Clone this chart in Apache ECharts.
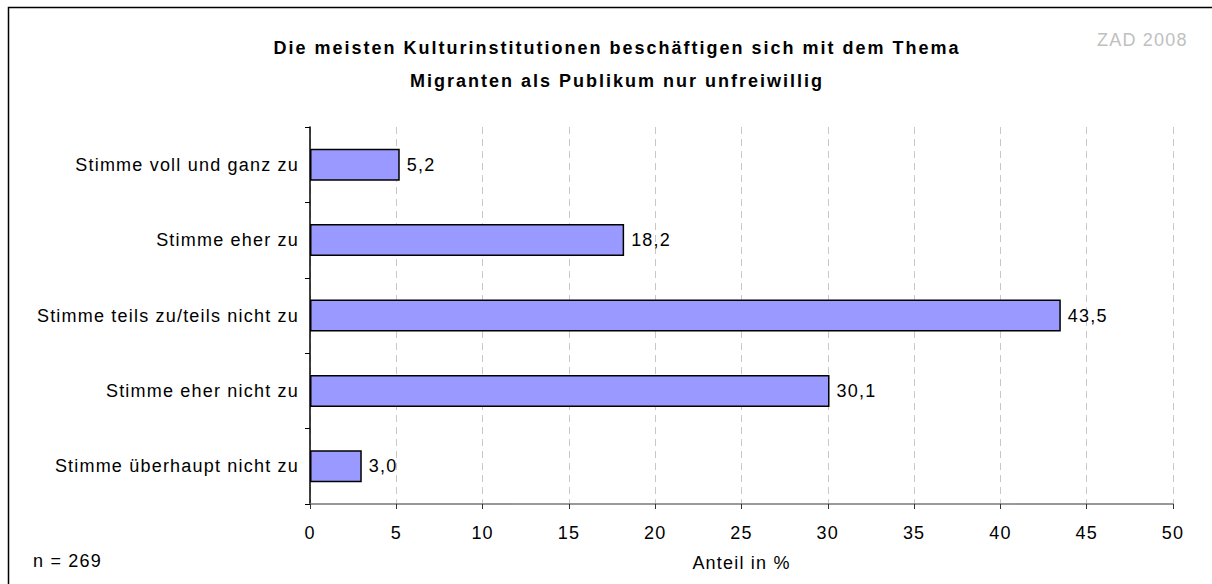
<!DOCTYPE html>
<html>
<head>
<meta charset="utf-8">
<script src="https://cdn.jsdelivr.net/npm/echarts@6/dist/echarts.min.js"></script>
<style>
  html, body { margin: 0; padding: 0; background: #fff; }
  #chart { width: 1212px; height: 584px; }
  /* loose, slightly tracked lettering */
  #chart svg text { letter-spacing: 1.2px; }
  #chart svg text.title-text { letter-spacing: 2px; }
</style>
</head>
<body>
<div id="chart"></div>
<script>
// Survey answers, top to bottom
const categories = [
  'Stimme voll und ganz zu',
  'Stimme eher zu',
  'Stimme teils zu/teils nicht zu',
  'Stimme eher nicht zu',
  'Stimme überhaupt nicht zu'
];
// Share of respondents in percent
const shares = [5.2, 18.2, 43.5, 30.1, 3.0];
const titleLines = [
  'Die meisten Kulturinstitutionen beschäftigen sich mit dem Thema',
  'Migranten als Publikum nur unfreiwillig'
];
const sourceNote = 'ZAD 2008';
const sampleNote = 'n = 269';
const xAxisName = 'Anteil in %';

const font = 'Liberation Sans, Arial, sans-serif';
const chart = echarts.init(document.getElementById('chart'), null, { renderer: 'svg' });

chart.setOption({
  animation: false,
  backgroundColor: '#fff',
  graphic: [
    {
      type: 'rect',
      shape: { x: 8.5, y: 7.5, width: 1210, height: 580 },
      style: { fill: 'none', stroke: '#000', lineWidth: 1.5 },
      silent: true
    },
    {
      type: 'text', left: 1097, top: 31,
      style: { text: sourceNote, fill: '#c0c0c0', font: '18px ' + font }
    },
    {
      type: 'text', left: 33, top: 552,
      style: { text: sampleNote, fill: '#000', font: '18px ' + font }
    }
  ],
  title: {
    text: titleLines.join('\n'),
    left: 612,
    textAlign: 'center',
    top: 26,
    textStyle: {
      fontFamily: font, fontSize: 18, fontWeight: 'bold', color: '#000',
      lineHeight: 33
    }
  },
  grid: { left: 310, right: 39, top: 127, bottom: 80 },
  xAxis: {
    type: 'value',
    min: 0, max: 50, interval: 5,
    name: xAxisName,
    nameLocation: 'middle',
    nameGap: 50,
    nameTextStyle: { fontFamily: font, fontSize: 18, color: '#000' },
    axisLine: { show: true, onZero: false, lineStyle: { color: '#777', width: 1.5 } },
    axisTick: { show: true, length: 5, lineStyle: { color: '#333' } },
    axisLabel: { fontFamily: font, fontSize: 18, color: '#000', margin: 20 },
    splitLine: { show: true, lineStyle: { color: '#c8c8c8', type: [7, 5], width: 1 } }
  },
  yAxis: {
    type: 'category',
    data: categories,
    inverse: true,
    axisLine: { show: true, lineStyle: { color: '#000', width: 1.5 } },
    axisTick: { show: true, length: 5, alignWithLabel: false, lineStyle: { color: '#000' } },
    axisLabel: { fontFamily: font, fontSize: 18, color: '#000', margin: 11 },
    splitLine: { show: false }
  },
  series: [{
    type: 'bar',
    data: shares,
    barWidth: 32,
    itemStyle: { color: '#9999ff', borderColor: '#000', borderWidth: 1.5 },
    label: {
      show: true,
      position: 'right',
      distance: 7,
      fontFamily: font, fontSize: 18, color: '#000',
      formatter: p => p.value.toFixed(1).replace('.', ',')
    }
  }]
});

// give the bold heading its wider tracking
function markTitle() {
  document.querySelectorAll('#chart svg text').forEach(t => {
    const s = (t.getAttribute('style') || '') + ' ' + (t.getAttribute('font-weight') || '');
    if (/bold/.test(s)) t.classList.add('title-text');
  });
}
markTitle();
chart.on('finished', markTitle);
</script>
</body>
</html>
